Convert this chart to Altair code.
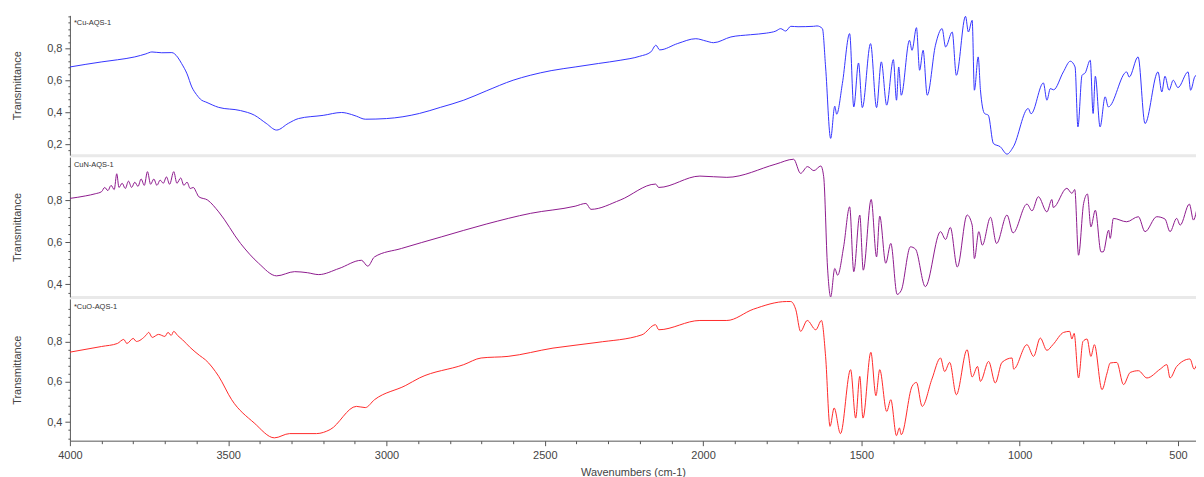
import altair as alt
import pandas as pd

# ---------------- data ----------------
wn_cu = [4000, 3899, 3850, 3795, 3760, 3741, 3710, 3678, 3660, 3647, 3630, 3615, 3600, 3584, 3571,
         3530, 3461, 3417, 3380, 3347, 3310, 3278, 3200, 3142, 3110, 3095, 3067, 3000, 2896, 2830,
         2756, 2685, 2600, 2546, 2480, 2404, 2330, 2262, 2200, 2165, 2149, 2137, 2080, 2023, 1990,
         1967, 1912, 1850, 1800, 1770, 1755, 1739, 1723, 1700, 1651, 1640, 1623, 1613, 1597, 1584,
         1578, 1560, 1537, 1524, 1509, 1497, 1471, 1452, 1437, 1420, 1399, 1389, 1382, 1374, 1348,
         1340, 1326, 1316, 1305, 1292, 1266, 1245, 1234, 1213, 1200, 1171, 1162, 1150, 1143, 1131,
         1124, 1111, 1099, 1083, 1061, 1040, 1020, 973, 964, 925, 914, 903, 893, 862, 840,
         825, 816, 803, 793, 777, 768, 761, 746, 730, 720, 662, 654, 626, 604, 563,
         551, 541, 528, 515, 500, 468, 460, 446, 430, 420]
t_cu = [0.683, 0.715, 0.728, 0.746, 0.765, 0.777, 0.772, 0.773, 0.745, 0.704, 0.64, 0.558, 0.51, 0.475, 0.464,
        0.43, 0.41, 0.381, 0.33, 0.288, 0.33, 0.36, 0.38, 0.398, 0.385, 0.375, 0.356, 0.36, 0.392, 0.43,
        0.475, 0.533, 0.6, 0.631, 0.66, 0.683, 0.705, 0.725, 0.75, 0.777, 0.819, 0.79, 0.83, 0.86, 0.845,
        0.835, 0.871, 0.885, 0.895, 0.908, 0.923, 0.908, 0.9375, 0.935, 0.9375, 0.94, 0.923, 0.683, 0.236, 0.4375,
        0.3875, 0.579, 0.892, 0.433, 0.708, 0.429, 0.829, 0.429, 0.715, 0.444, 0.729, 0.475, 0.683, 0.506, 0.85,
        0.7875, 0.929, 0.6625, 0.7875, 0.506, 0.819, 0.923, 0.808, 0.902, 0.631, 1.0, 0.902, 0.975, 0.5375, 0.746,
        0.542, 0.392, 0.381, 0.204, 0.183, 0.1375, 0.183, 0.423, 0.39, 0.583, 0.475, 0.548, 0.54, 0.652, 0.719,
        0.683, 0.308, 0.631, 0.646, 0.725, 0.392, 0.625, 0.308, 0.496, 0.433, 0.652, 0.62, 0.746, 0.329, 0.652,
        0.527, 0.625, 0.5375, 0.6, 0.554, 0.652, 0.5375, 0.625, 0.64, 0.6]

wn_cun = [4000, 3950, 3920, 3900, 3890, 3880, 3870, 3860, 3852, 3845, 3835, 3825, 3815, 3805, 3795,
          3785, 3775, 3765, 3755, 3745, 3735, 3725, 3715, 3705, 3695, 3685, 3672, 3662, 3650, 3640,
          3630, 3620, 3610, 3600, 3593, 3565, 3530, 3461, 3404, 3347, 3290, 3250, 3214, 3150, 3079,
          3059, 3038, 2953, 2827, 2685, 2545, 2404, 2370, 2354, 2262, 2150, 2140, 2010, 1925, 1770,
          1714, 1692, 1670, 1650, 1628, 1619, 1607, 1597, 1584, 1575, 1556, 1537, 1524, 1505, 1494,
          1469, 1452, 1442, 1423, 1407, 1387, 1374, 1345, 1329, 1298, 1250, 1234, 1219, 1197, 1166,
          1150, 1143, 1129, 1118, 1092, 1073, 1040, 1021, 977, 961, 941, 914, 898, 894, 851,
          835, 826, 814, 798, 786, 775, 761, 743, 736, 719, 714, 704, 662, 625, 604,
          567, 541, 525, 504, 493, 464, 451, 432, 418]
t_cun = [0.808, 0.82, 0.83, 0.84, 0.86, 0.845, 0.87, 0.85, 0.925, 0.86, 0.88, 0.855, 0.89, 0.86, 0.885,
         0.865, 0.9, 0.87, 0.935, 0.875, 0.9, 0.87, 0.895, 0.88, 0.91, 0.875, 0.935, 0.88, 0.905, 0.87,
         0.885, 0.855, 0.86, 0.835, 0.816, 0.8, 0.744, 0.594, 0.5, 0.44, 0.46, 0.455, 0.446, 0.475, 0.514,
         0.486, 0.53, 0.57, 0.625, 0.686, 0.737, 0.771, 0.784, 0.756, 0.8, 0.876, 0.86, 0.914, 0.908, 0.971,
         0.994, 0.927, 0.959, 0.94, 0.962, 0.911, 0.482, 0.34, 0.475, 0.443, 0.578, 0.768, 0.46, 0.729, 0.467,
         0.803, 0.53, 0.724, 0.5, 0.594, 0.352, 0.371, 0.578, 0.567, 0.389, 0.65, 0.613, 0.67, 0.482, 0.729,
         0.681, 0.522, 0.65, 0.586, 0.718, 0.594, 0.729, 0.644, 0.781, 0.749, 0.816, 0.744, 0.803, 0.765, 0.856,
         0.832, 0.85, 0.538, 0.784, 0.829, 0.673, 0.752, 0.554, 0.554, 0.657, 0.618, 0.713, 0.697, 0.721, 0.65,
         0.721, 0.71, 0.65, 0.713, 0.681, 0.781, 0.705, 0.792, 0.729]

wn_cuo = [4000, 3900, 3850, 3830, 3820, 3800, 3790, 3760, 3751, 3740, 3720, 3700, 3690, 3680, 3672,
          3660, 3644, 3620, 3590, 3572, 3530, 3489, 3418, 3354, 3306, 3221, 3178, 3095, 3067, 3038,
          2939, 2896, 2756, 2701, 2616, 2474, 2335, 2193, 2150, 2140, 2010, 1925, 1841, 1736, 1723,
          1707, 1692, 1671, 1644, 1626, 1613, 1599, 1586, 1566, 1534, 1518, 1505, 1495, 1470, 1454,
          1442, 1420, 1407, 1389, 1380, 1374, 1340, 1326, 1308, 1277, 1250, 1237, 1221, 1200, 1166,
          1150, 1133, 1124, 1098, 1077, 1056, 1024, 1019, 977, 956, 935, 914, 895, 861, 842,
          835, 828, 814, 800, 787, 775, 764, 740, 724, 714, 693, 672, 651, 625, 598,
          556, 535, 525, 504, 462, 449, 428, 418]
t_cuo = [0.747, 0.775, 0.79, 0.81, 0.79, 0.815, 0.8, 0.83, 0.845, 0.82, 0.835, 0.825, 0.845, 0.83, 0.85,
         0.83, 0.808, 0.77, 0.73, 0.709, 0.627, 0.511, 0.396, 0.322, 0.343, 0.343, 0.363, 0.478, 0.472, 0.511,
         0.582, 0.619, 0.685, 0.718, 0.726, 0.767, 0.795, 0.833, 0.883, 0.858, 0.904, 0.904, 0.96, 0.998, 0.998,
         0.957, 0.85, 0.904, 0.858, 0.904, 0.726, 0.379, 0.47, 0.343, 0.66, 0.42, 0.627, 0.42, 0.746, 0.531,
         0.66, 0.453, 0.511, 0.333, 0.371, 0.338, 0.577, 0.597, 0.478, 0.614, 0.718, 0.651, 0.696, 0.536, 0.759,
         0.624, 0.676, 0.602, 0.701, 0.594, 0.696, 0.718, 0.663, 0.784, 0.726, 0.817, 0.756, 0.784, 0.845, 0.85,
         0.812, 0.84, 0.619, 0.8, 0.812, 0.726, 0.784, 0.561, 0.643, 0.693, 0.696, 0.586, 0.646, 0.655, 0.619,
         0.663, 0.685, 0.619, 0.676, 0.713, 0.663, 0.729, 0.676]

labels = ["*Cu-AQS-1", "CuN-AQS-1", "*CuO-AQS-1"]
colors = ["#3535ff", "#8e1b8e", "#ff2a2a"]
y_domains = [[0.131, 1.006], [0.34, 1.004], [0.308, 1.011]]
y_ticks = [[round(0.16 + 0.04 * i, 2) for i in range(22)],
           [round(0.36 + 0.04 * i, 2) for i in range(16)],
           [round(0.32 + 0.04 * i, 2) for i in range(17)]]
heights = [140, 140, 142]
x_ticks = list(range(500, 4001, 100))
X_DOMAIN = [4000, 443]

AXIS_GRAY = "#555555"
TEXT_GRAY = "#444444"


def panel(wn, t, color, label, ydom, yt, h, bottom):
    df = pd.DataFrame({"wn": wn, "t": t})
    major_test = "abs(round(datum.value*5) - datum.value*5) < 0.001"
    y_axis = alt.Axis(
        values=yt,
        labelExpr=f"({major_test}) && datum.value < 0.9 ? replace(format(datum.value, '.1f'), '.', ',') : ''",
        tickSize={"condition": {"test": f"({major_test}) && datum.value < 0.9", "value": 5}, "value": 2},
        tickColor=AXIS_GRAY, domainColor=AXIS_GRAY, labelColor=TEXT_GRAY,
        labelFontSize=11, labelFont="Liberation Sans", labelPadding=3,
        title="Transmittance", titleFontSize=11, titleFontWeight="normal",
        titleFont="Liberation Sans", titleColor=TEXT_GRAY, titlePadding=24,
        grid=False,
    )
    if bottom:
        x_axis = alt.Axis(
            values=x_ticks, format="d",
            labelExpr="datum.value % 500 == 0 ? datum.label : ''",
            tickSize={"condition": {"test": "datum.value % 500 == 0", "value": 5}, "value": 3},
            tickColor=AXIS_GRAY, domainColor=AXIS_GRAY, labelColor=TEXT_GRAY,
            labelFontSize=11, labelFont="Liberation Sans", labelPadding=4,
            title="Wavenumbers (cm-1)", titleFontSize=11, titleFontWeight="normal",
            titleFont="Liberation Sans", titleColor=TEXT_GRAY, titlePadding=6,
            grid=False, labelFlush=False,
        )
    else:
        x_axis = alt.Axis(labels=False, ticks=False, title=None, grid=False,
                          domainColor="#e9e9e9", domainWidth=3)
    line = alt.Chart(df).mark_line(color=color, strokeWidth=1, clip=True,
                                   interpolate="monotone").encode(
        x=alt.X("wn:Q", scale=alt.Scale(domain=X_DOMAIN, nice=False, zero=False), axis=x_axis),
        y=alt.Y("t:Q", scale=alt.Scale(domain=ydom, nice=False, zero=False), axis=y_axis),
    )
    text = alt.Chart(pd.DataFrame({"label": [label]})).mark_text(
        align="left", baseline="middle", fontSize=7.5, color="#333333", font="Liberation Sans"
    ).encode(x=alt.value(4), y=alt.value(8), text="label:N")
    return alt.layer(line, text).properties(width=1128, height=h)


panels = [
    panel(wn_cu, t_cu, colors[0], labels[0], y_domains[0], y_ticks[0], heights[0], False),
    panel(wn_cun, t_cun, colors[1], labels[1], y_domains[1], y_ticks[1], heights[1], False),
    panel(wn_cuo, t_cuo, colors[2], labels[2], y_domains[2], y_ticks[2], heights[2], True),
]

chart = alt.vconcat(*panels, spacing=2).properties(
    padding={"top": 7, "left": 3, "right": 0, "bottom": 0},
    background="white",
).configure_view(stroke=None, strokeWidth=0)

chart.save("out.html", embed_options={"renderer": "svg", "actions": False})
